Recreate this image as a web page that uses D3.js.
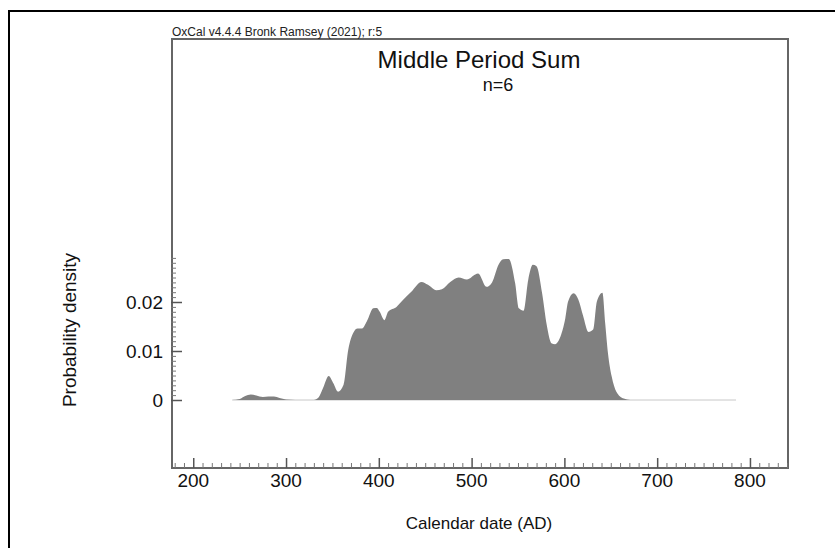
<!DOCTYPE html>
<html>
<head>
<meta charset="utf-8">
<script src="https://cdn.jsdelivr.net/npm/d3@7"></script>
<style>
  html, body { margin: 0; padding: 0; background: #fff; }
  svg { display: block; font-family: "Liberation Sans", Arial, sans-serif; }
</style>
</head>
<body>
<svg id="chart" width="835" height="548"></svg>
<script>
// Summed probability distribution, calendar years AD
const years = [242, 250, 256, 262, 268, 275, 281, 287, 293, 300, 310, 330, 335, 340, 346, 351, 356, 362,
  367, 373, 377, 382, 387, 394, 398, 401, 406, 410, 419, 426, 435, 446, 453, 462, 468, 477, 486, 495,
  504, 507, 516, 522, 529, 534, 540, 547, 551, 556, 561, 566, 570, 576, 581, 586, 590, 595, 601, 604,
  610, 615, 620, 626, 631, 635, 641, 644, 647, 651, 656, 664, 671, 785];
const density = [0, 0.0002, 0.0008, 0.0011, 0.0009, 0.0006, 0.0007, 0.0007, 0.0004, 0.0001, 0, 0, 0.0005,
  0.0025, 0.0049, 0.0034, 0.0017, 0.0031, 0.0102, 0.0139, 0.0146, 0.0146, 0.0160, 0.0187, 0.0188, 0.0180,
  0.0163, 0.0180, 0.0190, 0.0204, 0.0221, 0.0241, 0.0235, 0.0224, 0.0226, 0.0241, 0.0250, 0.0246, 0.0256,
  0.0258, 0.0231, 0.0240, 0.0276, 0.0287, 0.0288, 0.0238, 0.0187, 0.0182, 0.0245, 0.0276, 0.0273, 0.0218,
  0.0153, 0.0116, 0.0114, 0.0126, 0.0167, 0.0201, 0.0218, 0.0205, 0.0173, 0.0139, 0.0144, 0.0201, 0.0219,
  0.0156, 0.0095, 0.0048, 0.0017, 0.0003, 0, 0];

const xMajorTicks = [200, 300, 400, 500, 600, 700, 800];
const yMajorTicks = [0, 0.01, 0.02];
const yTickLabels = ["0", "0.01", "0.02"];

const title = "Middle Period Sum";
const subtitle = "n=6";
const credit = "OxCal v4.4.4 Bronk Ramsey (2021); r:5";
const xTitle = "Calendar date (AD)";
const yTitle = "Probability density";

const svg = d3.select("#chart");
const box = { left: 172, right: 788, top: 39, bottom: 468 };

const x = d3.scaleLinear().domain([177.1, 841]).range([box.left, box.right]);
const y = d3.scaleLinear().domain([0, 0.01]).range([400, 351]);

const data = years.map((yr, i) => ({ yr, d: density[i] }));

// Outer frame (top and left edges)
svg.append("path")
  .attr("d", "M9,548 V11 H835")
  .attr("fill", "none").attr("stroke", "#000").attr("stroke-width", 2);

// Distribution
svg.append("line")
  .attr("x1", x(years[0])).attr("x2", x(years[years.length - 1]))
  .attr("y1", y(0)).attr("y2", y(0))
  .attr("stroke", "#c8c8c8").attr("stroke-width", 1);

svg.append("path")
  .datum(data)
  .attr("fill", "#808080")
  .attr("d", d3.area().curve(d3.curveMonotoneX)
    .x(p => x(p.yr)).y0(y(0)).y1(p => y(p.d)));

// Plot box
svg.append("rect")
  .attr("x", box.left).attr("y", box.top)
  .attr("width", box.right - box.left).attr("height", box.bottom - box.top)
  .attr("fill", "none").attr("stroke", "#666").attr("stroke-width", 2);

// X axis ticks (pointing inward)
const xAxis = svg.append("g").attr("transform", `translate(0,${box.bottom})`);
xAxis.call(d3.axisTop(x).tickValues(d3.range(180, 841, 10).filter(v => v % 100 !== 0))
  .tickSize(5).tickFormat(""))
  .call(g => g.select(".domain").remove())
  .call(g => g.selectAll("line").attr("stroke", "#777"));
const xMaj = svg.append("g").attr("transform", `translate(0,${box.bottom})`);
xMaj.call(d3.axisTop(x).tickValues(xMajorTicks).tickSize(10).tickFormat(""))
  .call(g => g.select(".domain").remove())
  .call(g => g.selectAll("line").attr("stroke", "#555").attr("stroke-width", 1.5));
svg.append("g").selectAll("text").data(xMajorTicks).join("text")
  .attr("x", d => x(d)).attr("y", 487)
  .attr("text-anchor", "middle").attr("font-size", 19).attr("fill", "#111")
  .text(d => d);

// Y axis ticks (pointing inward)
const yMinor = svg.append("g").attr("transform", `translate(${box.left - 1},0)`);
yMinor.call(d3.axisRight(y).tickValues(d3.range(1, 30).map(i => i / 1000).filter(v => Math.round(v * 1000) % 10 !== 0))
  .tickSize(5).tickFormat(""))
  .call(g => g.select(".domain").remove())
  .call(g => g.selectAll("line").attr("stroke", "#777"));
const yMaj = svg.append("g").attr("transform", `translate(${box.left - 1},0)`);
yMaj.call(d3.axisRight(y).tickValues(yMajorTicks).tickSize(11).tickFormat(""))
  .call(g => g.select(".domain").remove())
  .call(g => g.selectAll("line").attr("stroke", "#555").attr("stroke-width", 1.5));
svg.append("g").selectAll("text").data(yMajorTicks).join("text")
  .attr("x", 163).attr("y", d => y(d) + 7)
  .attr("text-anchor", "end").attr("font-size", 19).attr("fill", "#111")
  .text((d, i) => yTickLabels[i]);

// Titles
svg.append("text").attr("x", box.left).attr("y", 36)
  .attr("font-size", 12).attr("fill", "#222").text(credit);
svg.append("text").attr("x", 479).attr("y", 68)
  .attr("text-anchor", "middle").attr("font-size", 24).attr("fill", "#111").text(title);
svg.append("text").attr("x", 498).attr("y", 91)
  .attr("text-anchor", "middle").attr("font-size", 18).attr("fill", "#111").text(subtitle);
svg.append("text").attr("x", 479).attr("y", 529)
  .attr("text-anchor", "middle").attr("font-size", 17).attr("fill", "#111").text(xTitle);
svg.append("text").attr("transform", "translate(76,330) rotate(-90)")
  .attr("text-anchor", "middle").attr("font-size", 19).attr("fill", "#111").text(yTitle);
</script>
</body>
</html>
